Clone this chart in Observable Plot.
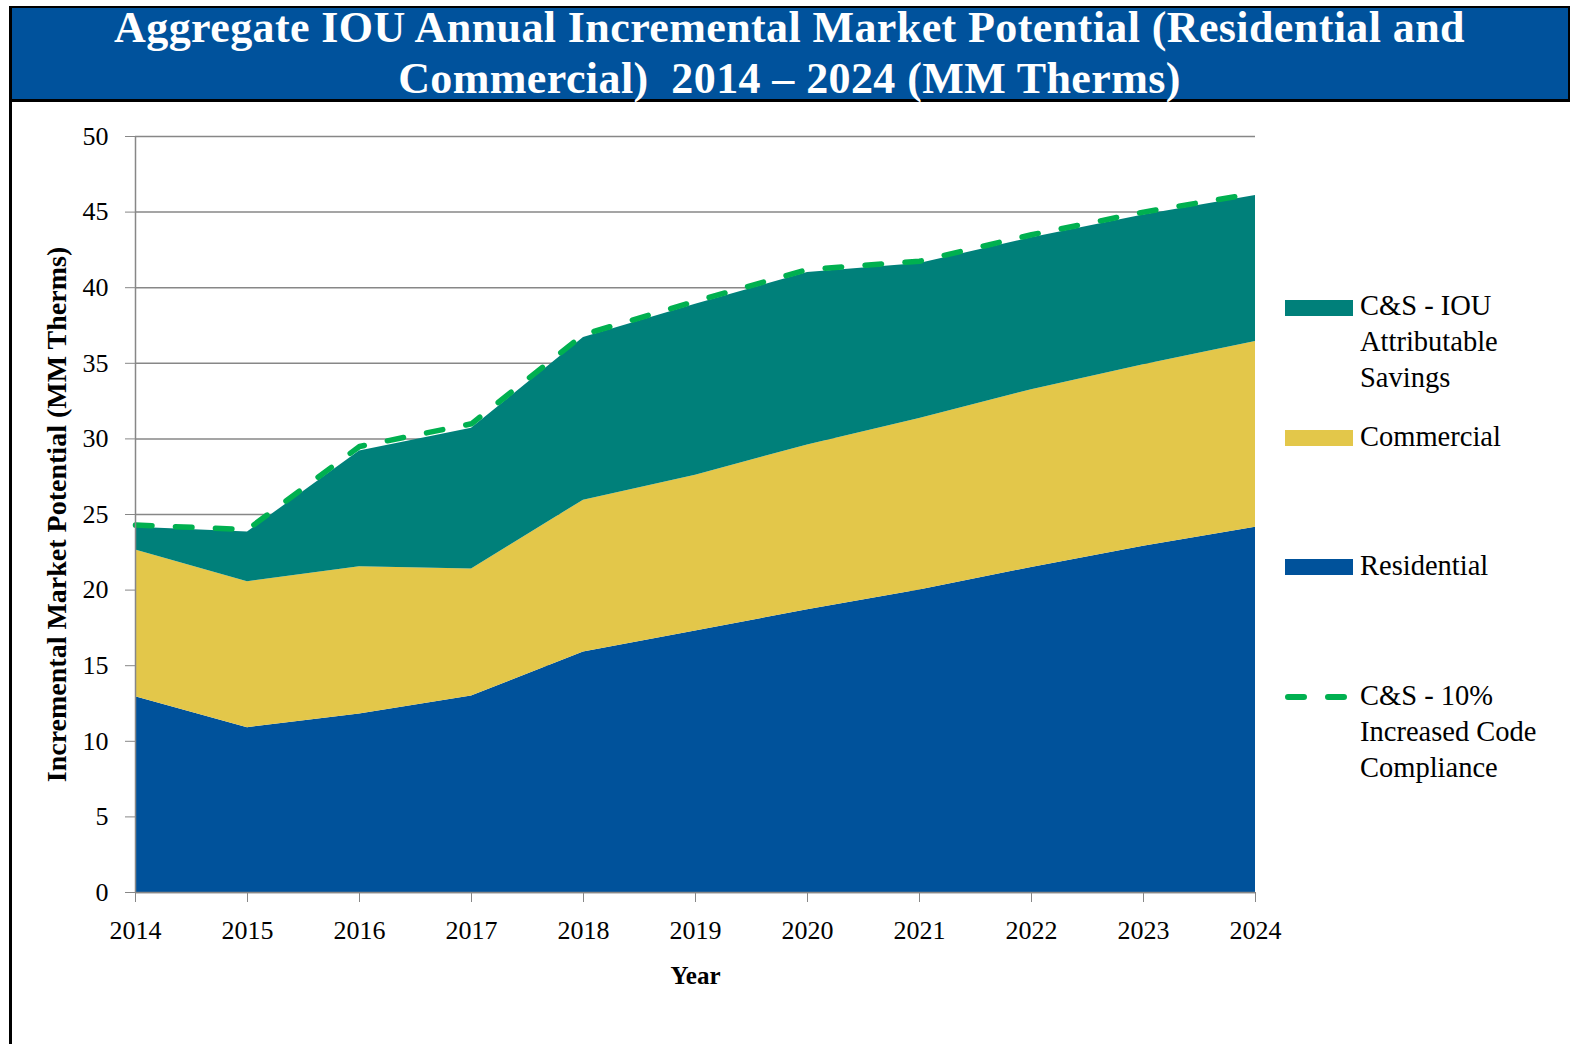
<!DOCTYPE html>
<html><head><meta charset="utf-8">
<script src="https://cdn.jsdelivr.net/npm/d3@7"></script>
<script src="https://cdn.jsdelivr.net/npm/@observablehq/plot@0.6"></script>
<style>
body{margin:0;background:#fff;}
#wrap{position:relative;width:1570px;height:1044px;overflow:hidden;font-family:"Liberation Serif","Times New Roman",serif;}
#frame{position:absolute;left:9px;top:6px;width:3px;height:1040px;background:#000;z-index:3;}
#banner{position:absolute;left:9px;top:6px;width:1557px;height:91px;background:#00529C;border:2px solid #000;border-bottom-width:3px;color:#fff;font-weight:bold;font-size:44px;letter-spacing:0.4px;line-height:50.5px;text-align:center;z-index:2;}
#banner .in{position:relative;top:-5px;white-space:pre;}
#chart{position:absolute;left:0;top:110px;}
.leg{position:absolute;font-size:28.5px;line-height:36px;color:#000;white-space:nowrap;}
.sw{position:absolute;width:68px;height:16px;}
</style>
</head><body>
<div id="wrap">
  <div id="banner"><div class="in" id="title1"></div><div class="in" id="title2"></div></div>
  <div id="frame"></div>
  <div id="chart"></div>
  <div id="legend"></div>
</div>
<script>
const titleLines = ["Aggregate IOU Annual Incremental Market Potential (Residential and", "Commercial)  2014 \u2013 2024 (MM Therms)"];
const years = [2014, 2015, 2016, 2017, 2018, 2019, 2020, 2021, 2022, 2023, 2024];
const seriesNames = ["Residential", "Commercial", "C&S - IOU Attributable Savings"];
const residential = [12.95, 10.9, 11.8, 13.0, 15.9, 17.3, 18.7, 20.0, 21.5, 22.9, 24.15];
const commercial = [9.7, 9.65, 9.75, 8.4, 10.05, 10.3, 10.9, 11.35, 11.75, 12.0, 12.3];
const csIou = [1.5, 3.3, 7.65, 9.3, 10.75, 11.3, 11.4, 10.25, 10.05, 9.9, 9.65];
const cs10Name = "C&S - 10% Increased Code Compliance";
const cs10 = [24.3, 24.0, 29.5, 31.0, 36.9, 39.1, 41.2, 41.75, 43.5, 45.0, 46.25];
const yTicks = [0, 5, 10, 15, 20, 25, 30, 35, 40, 45, 50];
const colors = ["#00529B", "#E3C74A", "#00807A"];
const dashColor = "#00B050";
const yLabel = "Incremental Market Potential (MM Therms)";
const xLabel = "Year";

document.getElementById("title1").textContent = titleLines[0];
document.getElementById("title2").textContent = titleLines[1];

const seriesValues = [residential, commercial, csIou];
const table = [];
years.forEach((yr, i) => {
  seriesNames.forEach((s, j) => table.push({year: yr, series: s, value: seriesValues[j][i]}));
});
const dashData = years.map((yr, i) => ({year: yr, value: cs10[i]}));

const gray = "#878787";
const plot = Plot.plot({
  width: 1570,
  height: 900,
  marginTop: 26,
  marginBottom: 118,
  marginLeft: 135,
  marginRight: 315,
  style: {background: "transparent", fontFamily: "'Liberation Serif', 'Times New Roman', serif", overflow: "visible"},
  x: {domain: [2014, 2024], label: null},
  y: {domain: [0, 50], label: null},
  color: {domain: seriesNames, range: colors},
  marks: [
    Plot.gridY(yTicks, {stroke: gray, strokeOpacity: 1, strokeWidth: 1.5}),
    Plot.areaY(table, {x: "year", y: "value", fill: "series", order: seriesNames}),
    Plot.line(dashData, {x: "year", y: "value", stroke: dashColor, strokeWidth: 5.5, strokeDasharray: "16.5,23.5", strokeLinecap: "round", strokeLinejoin: "round"}),
    Plot.ruleX([2014], {stroke: gray, strokeWidth: 1.5}),
    Plot.ruleY([0], {stroke: gray, strokeWidth: 1.5}),
    Plot.axisY({ticks: yTicks, tickSize: 10, tickPadding: 17, fontSize: 26, stroke: gray, fill: "#000", label: null}),
    Plot.axisX({ticks: years, tickFormat: d => String(d), tickSize: 10, tickPadding: 18, fontSize: 26, stroke: gray, fill: "#000", label: null}),
    Plot.text([yLabel], {frameAnchor: "left", rotate: -90, dx: -78, dy: 0, fontSize: 28, fontWeight: "bold", textAnchor: "middle", lineAnchor: "middle", fill: "#000"}),
    Plot.text([xLabel], {frameAnchor: "bottom", dy: 83, fontSize: 25, fontWeight: "bold", textAnchor: "middle", lineAnchor: "middle", fill: "#000"})
  ]
});
document.getElementById("chart").appendChild(plot);

// legend
const legend = document.getElementById("legend");
const legItems = [
  {lines: ["C&S - IOU", "Attributable", "Savings"], color: colors[2], top: 288, sw: 300},
  {lines: ["Commercial"], color: colors[1], top: 419, sw: 430},
  {lines: ["Residential"], color: colors[0], top: 548, sw: 559},
  {lines: ["C&S - 10%", "Increased Code", "Compliance"], dash: true, top: 678, sw: 697}
];
legItems.forEach(it => {
  if (it.dash) {
    const s = document.createElementNS("http://www.w3.org/2000/svg", "svg");
    s.setAttribute("width", 80); s.setAttribute("height", 20);
    s.style.position = "absolute"; s.style.left = "1280px"; s.style.top = (it.sw - 10) + "px";
    const l = document.createElementNS("http://www.w3.org/2000/svg", "line");
    l.setAttribute("x1", 8); l.setAttribute("x2", 70); l.setAttribute("y1", 10); l.setAttribute("y2", 10);
    l.setAttribute("stroke", dashColor); l.setAttribute("stroke-width", 6);
    l.setAttribute("stroke-linecap", "round"); l.setAttribute("stroke-dasharray", "16,24");
    s.appendChild(l); legend.appendChild(s);
  } else {
    const d = document.createElement("div");
    d.className = "sw"; d.style.left = "1285px"; d.style.top = it.sw + "px"; d.style.background = it.color;
    legend.appendChild(d);
  }
  const t = document.createElement("div");
  t.className = "leg"; t.style.left = "1360px"; t.style.top = it.top + "px";
  t.innerHTML = it.lines.map(s => s.replace(/&/g, "&amp;")).join("<br>");
  legend.appendChild(t);
});
</script>
</body></html>
